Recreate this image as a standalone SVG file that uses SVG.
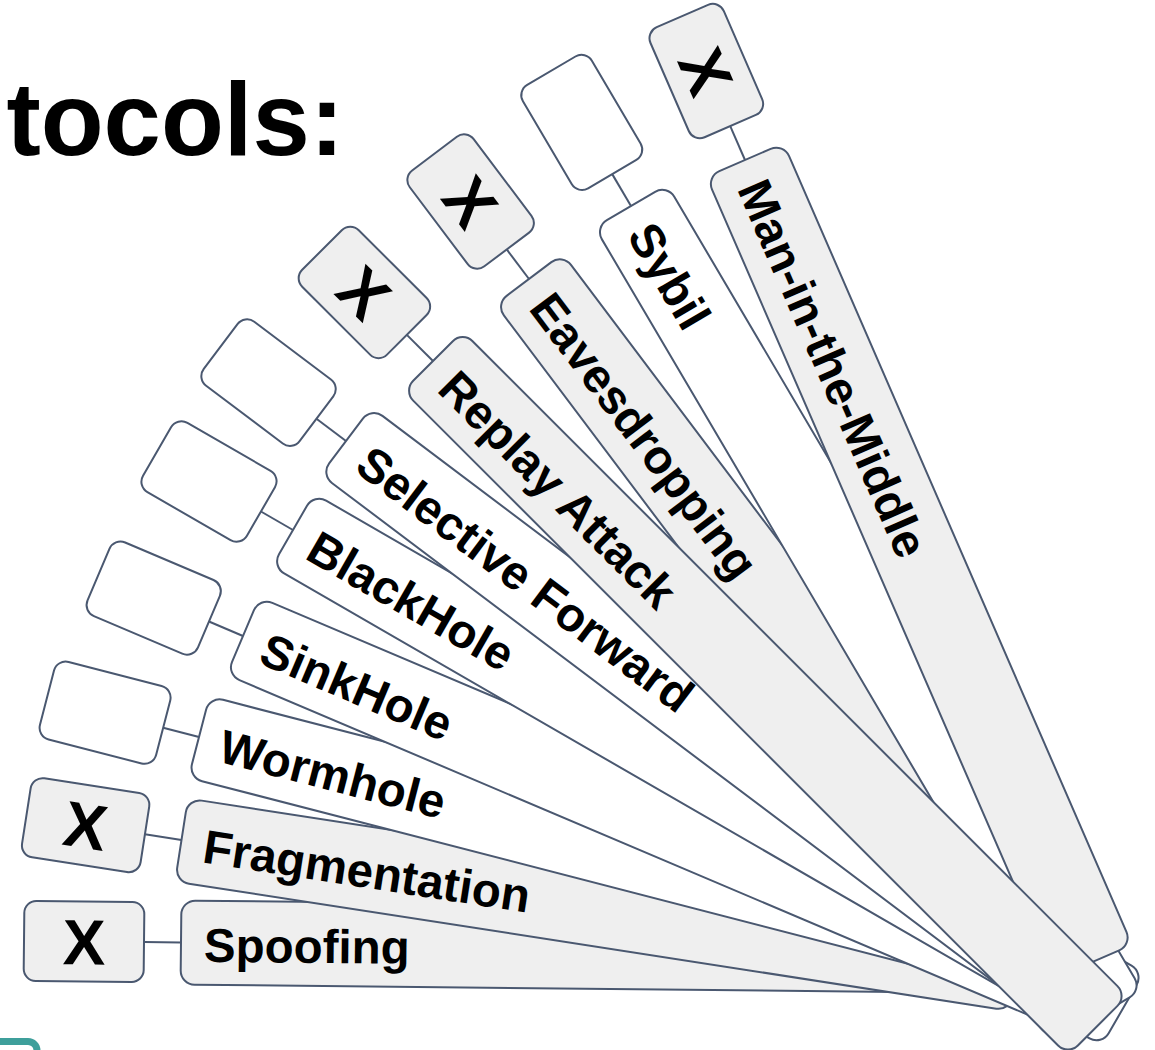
<svg xmlns="http://www.w3.org/2000/svg" width="1155" height="1050" viewBox="0 0 1155 1050">
  <style>
    .box, .bar { stroke: #4a5870; stroke-width: 2; }
    .gray { fill: #efefef; }
    .white { fill: #ffffff; }
    .wire { stroke: #4a5870; stroke-width: 2; fill: none; }
    .label { font-family: "Liberation Sans", Arial, sans-serif; font-weight: bold; font-size: 47.5px; fill: #000; }
    .mark { font-family: "Liberation Sans", Arial, sans-serif; font-weight: bold; font-size: 64px; fill: #000; text-anchor: middle; }
    .title { font-family: "Liberation Sans", Arial, sans-serif; font-weight: bold; font-size: 103px; fill: #000; text-anchor: end; }
  </style>
  <rect width="1155" height="1050" fill="#ffffff"/>

  <!-- heading, running off the left edge -->
  <text class="title" x="344" y="155">tocols:</text>

  <!-- teal frame corner at the bottom left -->
  <rect x="-100" y="1041.5" width="137" height="60" rx="9" fill="#ffffff" stroke="#3e9f9b" stroke-width="7"/>

  <!-- short links between each check box and its attack bar -->
  <g id="connectors">
    <line class="wire" transform="translate(181 942.5) rotate(0.6)" x1="-37" y1="0" x2="0" y2="0"/>
    <line class="wire" transform="translate(181.5 840) rotate(8.8)" x1="-37" y1="0" x2="0" y2="0"/>
    <line class="wire" transform="translate(199 737) rotate(14.5)" x1="-37" y1="0" x2="0" y2="0"/>
    <line class="wire" transform="translate(243 636) rotate(23)" x1="-37" y1="0" x2="0" y2="0"/>
    <line class="wire" transform="translate(293 530) rotate(30)" x1="-37" y1="0" x2="0" y2="0"/>
    <line class="wire" transform="translate(346 441) rotate(37)" x1="-37" y1="0" x2="0" y2="0"/>
    <line class="wire" transform="translate(433 361) rotate(45)" x1="-37" y1="0" x2="0" y2="0"/>
    <line class="wire" transform="translate(529 279) rotate(53)" x1="-37" y1="0" x2="0" y2="0"/>
    <line class="wire" transform="translate(631 206) rotate(59.5)" x1="-37" y1="0" x2="0" y2="0"/>
    <line class="wire" transform="translate(745 160) rotate(66.5)" x1="-37" y1="0" x2="0" y2="0"/>
  </g>

  <!-- check boxes -->
  <g id="box-spoofing" transform="translate(181 942.5) rotate(0.6)">
    <rect class="box gray" x="-157" y="-40" width="120" height="80" rx="12"/>
    <text class="mark" x="-97" y="23">X</text>
  </g>
  <g id="box-fragmentation" transform="translate(181.5 840) rotate(8.8)">
    <rect class="box gray" x="-157" y="-40" width="120" height="80" rx="12"/>
    <text class="mark" x="-97" y="23">X</text>
  </g>
  <g id="box-wormhole" transform="translate(199 737) rotate(14.5)">
    <rect class="box white" x="-157" y="-40" width="120" height="80" rx="12"/>
  </g>
  <g id="box-sinkhole" transform="translate(243 636) rotate(23)">
    <rect class="box white" x="-157" y="-40" width="120" height="80" rx="12"/>
  </g>
  <g id="box-blackhole" transform="translate(293 530) rotate(30)">
    <rect class="box white" x="-157" y="-40" width="120" height="80" rx="12"/>
  </g>
  <g id="box-selective" transform="translate(346 441) rotate(37)">
    <rect class="box white" x="-157" y="-40" width="120" height="80" rx="12"/>
  </g>
  <g id="box-replay" transform="translate(433 361) rotate(45)">
    <rect class="box gray" x="-157" y="-40" width="120" height="80" rx="12"/>
    <text class="mark" x="-97" y="23">X</text>
  </g>
  <g id="box-eavesdropping" transform="translate(529 279) rotate(53)">
    <rect class="box gray" x="-157" y="-40" width="120" height="80" rx="12"/>
    <text class="mark" x="-97" y="23">X</text>
  </g>
  <g id="box-sybil" transform="translate(631 206) rotate(59.5)">
    <rect class="box white" x="-157" y="-40" width="120" height="80" rx="12"/>
  </g>
  <g id="box-mitm" transform="translate(745 160) rotate(66.5)">
    <rect class="box gray" x="-157" y="-40" width="120" height="80" rx="12"/>
    <text class="mark" x="-97" y="23">X</text>
  </g>

  <!-- attack bars, fanned out; later bars sit on top -->
  <g id="bar-spoofing" transform="translate(181 942.5) rotate(0.6)">
    <rect class="bar gray" x="0" y="-42" width="842" height="84" rx="14"/>
    <text class="label" x="23" y="19">Spoofing</text>
  </g>
  <g id="bar-fragmentation" transform="translate(181.5 840) rotate(8.8)">
    <rect class="bar gray" x="0" y="-42" width="845" height="84" rx="14"/>
    <text class="label" x="23" y="19">Fragmentation</text>
  </g>
  <g id="bar-wormhole" transform="translate(199 737) rotate(14.5)">
    <rect class="bar white" x="0" y="-42" width="870" height="84" rx="14"/>
    <text class="label" x="23" y="19">Wormhole</text>
  </g>
  <g id="bar-sinkhole" transform="translate(243 636) rotate(23)">
    <rect class="bar white" x="0" y="-42" width="900" height="84" rx="14"/>
    <text class="label" x="23" y="19">SinkHole</text>
  </g>
  <g id="bar-blackhole" transform="translate(293 530) rotate(30)">
    <rect class="bar white" x="0" y="-42" width="958" height="84" rx="14"/>
    <text class="label" x="23" y="19">BlackHole</text>
  </g>
  <g id="bar-selective" transform="translate(346 441) rotate(37)">
    <rect class="bar white" x="0" y="-42" width="910" height="84" rx="14"/>
    <text class="label" x="23" y="19">Selective Forward</text>
  </g>
  <g id="bar-eavesdropping" transform="translate(529 279) rotate(53)">
    <rect class="bar gray" x="0" y="-42" width="920" height="84" rx="14"/>
    <text class="label" x="23" y="19">Eavesdropping</text>
  </g>
  <g id="bar-sybil" transform="translate(631 206) rotate(59.5)">
    <rect class="bar white" x="0" y="-42" width="935" height="84" rx="14"/>
    <text class="label" x="23" y="19">Sybil</text>
  </g>
  <g id="bar-mitm" transform="translate(745 160) rotate(66.5)">
    <rect class="bar gray" x="0" y="-42" width="874" height="84" rx="14"/>
    <text class="label" x="23" y="19">Man-in-the-Middle</text>
  </g>
  <g id="bar-replay" transform="translate(433 361) rotate(45)">
    <rect class="bar gray" x="0" y="-42" width="940" height="84" rx="14"/>
    <text class="label" x="23" y="19">Replay Attack</text>
  </g>
</svg>
